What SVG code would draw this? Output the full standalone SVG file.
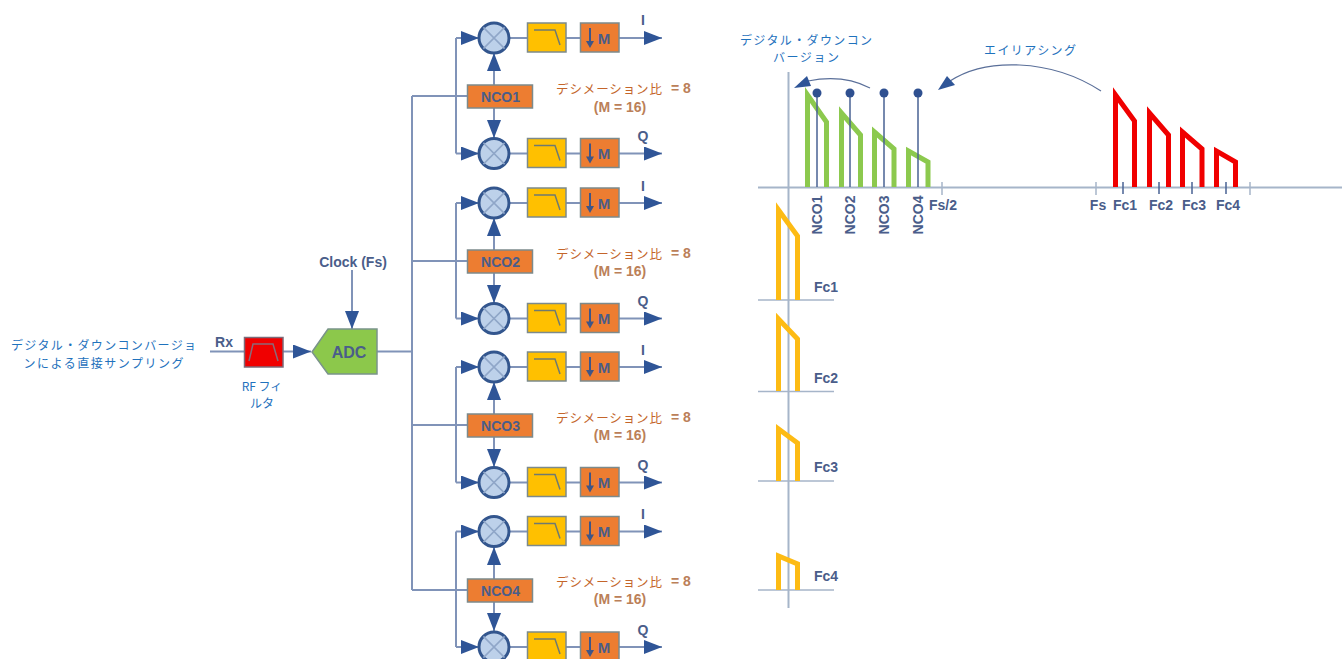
<svg xmlns="http://www.w3.org/2000/svg" xmlns:xlink="http://www.w3.org/1999/xlink" width="1342" height="659" viewBox="0 0 1342 659">
<style>
.lat{font-family:"Liberation Sans",Arial,sans-serif;font-weight:bold;fill:#4a5d8a;font-size:14px;text-anchor:middle}
.jb{font-family:"Noto Sans CJK JP","Noto Sans",sans-serif;fill:#1f72bd;font-size:12px;text-anchor:middle}
.jo{font-family:"Noto Sans CJK JP","Noto Sans",sans-serif;fill:#c4652a;font-size:12.5px;text-anchor:start}
.ob{font-family:"Liberation Sans",Arial,sans-serif;font-weight:bold;fill:#bb8058;font-size:14px}
.c{fill:none;stroke:#8093b8;stroke-width:2}
.a{fill:none;stroke:#8093b8;stroke-width:2;marker-end:url(#ah)}
.ax{fill:none;stroke:#a6b5c9;stroke-width:2}
.tk{fill:none;stroke:#a6b5c9;stroke-width:1.5}
.dk{fill:none;stroke:#4a6394;stroke-width:1.5}
.st{fill:none;stroke:#4a6394;stroke-width:1.5}
.dot{fill:#2f5090}
.g{fill:none;stroke:#8cc94e;stroke-width:5;stroke-miterlimit:10}
.r{fill:none;stroke:#f00000;stroke-width:5;stroke-miterlimit:10}
.y{fill:none;stroke:#fdbb14;stroke-width:5;stroke-miterlimit:10}
.box{stroke:#7c8a8c;stroke-width:1.5}
.head{fill:#2f5597}
.cv{fill:none;stroke:#5a6f99;stroke-width:1.2}
</style>
<defs>
<marker id="ah" markerUnits="userSpaceOnUse" markerWidth="18" markerHeight="14" refX="18" refY="7" orient="auto"><path d="M0 0L18 7L0 14Z" fill="#2f5597"/></marker>
<g id="mx"><circle cx="494" cy="0" r="15" fill="#bdd1ea" stroke="#33568e" stroke-width="3"/><path d="M483.4-10.6L504.6 10.6M483.4 10.6L504.6-10.6" stroke="#8fa6c8" stroke-width="1.5"/></g>
<g id="lp"><rect class="box" x="527.5" y="-15" width="38.5" height="29" fill="#ffc000"/><path d="M534-8H555L560 7" fill="none" stroke="#6f7a70" stroke-width="1.5"/></g>
<g id="dc"><rect class="box" x="580.5" y="-15" width="38.5" height="29" fill="#ed7d31"/><path d="M590-10V4" stroke="#3e5587" stroke-width="2"/><path d="M586 3H594L590 10Z" fill="#3e5587"/></g>
</defs>
<g id="connectors">
<path class="c" d="M412 96V590M412 96H467M412 261H467M412 425H467M412 590H467M377 351.500H412"/>
<path class="c" d="M456 38V153.500M456 203V318.500M456 367V482.500M456 531.500V647"/>
<path class="a" d="M456 38H479"/><path class="a" d="M456 153.500H479"/><path class="a" d="M456 203H479"/><path class="a" d="M456 318.500H479"/><path class="a" d="M456 367H479"/><path class="a" d="M456 482.500H479"/><path class="a" d="M456 531.500H479"/><path class="a" d="M456 647H479"/>
<path class="a" d="M494 85V53"/><path class="a" d="M494 108V138"/><path class="a" d="M494 250V218"/><path class="a" d="M494 273V303"/><path class="a" d="M494 414V382"/><path class="a" d="M494 437V467"/><path class="a" d="M494 579V547"/><path class="a" d="M494 601V631"/>
<path class="c" d="M509 38H527M566 38H580M509 153.500H527M566 153.500H580M509 203H527M566 203H580M509 318.500H527M566 318.500H580M509 367H527M566 367H580M509 482.500H527M566 482.500H580M509 531.500H527M566 531.500H580M509 647H527M566 647H580"/>
<path class="a" d="M619 38H662"/><path class="a" d="M619 153.500H662"/><path class="a" d="M619 203H662"/><path class="a" d="M619 318.500H662"/><path class="a" d="M619 367H662"/><path class="a" d="M619 482.500H662"/><path class="a" d="M619 531.500H662"/><path class="a" d="M619 647H662"/>
<path class="c" d="M210 351.500H244"/>
<path class="a" d="M283 351.500H311"/>
<path class="a" d="M352 270V329"/>
</g>
<g id="rf-filter"><rect x="244.500" y="337.500" width="38.500" height="29.500" fill="#f00000" stroke="#7c6a78" stroke-width="1.500"/><path d="M249 361L253 344H273L278 361" fill="none" stroke="#8a6a78" stroke-width="1.500"/></g>
<g id="adc"><path d="M312 352L328 329H377V374H328Z" fill="#8cc84b" stroke="#7a948a" stroke-width="1.500"/><text class="lat" x="349" y="357.500" font-size="16" style="font-size:16px">ADC</text></g>
<g id="ch1-mixI" transform="translate(0,38)"><use href="#mx"/></g>
<g id="ch1-lpI" transform="translate(0,38)"><use href="#lp"/></g>
<g id="ch1-decI" transform="translate(0,38)"><use href="#dc"/><text class="lat" x="604" y="5.500" style="font-size:15px">M</text></g>
<g id="ch1-nco"><rect class="box" x="467.500" y="85" width="65" height="23" fill="#ed7d31"/><text class="lat" x="500.500" y="102">NCO1</text></g>
<g id="ch1-mixQ" transform="translate(0,153.500)"><use href="#mx"/></g>
<g id="ch1-lpQ" transform="translate(0,153.500)"><use href="#lp"/></g>
<g id="ch1-decQ" transform="translate(0,153.500)"><use href="#dc"/><text class="lat" x="604" y="5.500" style="font-size:15px">M</text></g>
<g id="ch2-mixI" transform="translate(0,203)"><use href="#mx"/></g>
<g id="ch2-lpI" transform="translate(0,203)"><use href="#lp"/></g>
<g id="ch2-decI" transform="translate(0,203)"><use href="#dc"/><text class="lat" x="604" y="5.500" style="font-size:15px">M</text></g>
<g id="ch2-nco"><rect class="box" x="467.500" y="250" width="65" height="23" fill="#ed7d31"/><text class="lat" x="500.500" y="267">NCO2</text></g>
<g id="ch2-mixQ" transform="translate(0,318.500)"><use href="#mx"/></g>
<g id="ch2-lpQ" transform="translate(0,318.500)"><use href="#lp"/></g>
<g id="ch2-decQ" transform="translate(0,318.500)"><use href="#dc"/><text class="lat" x="604" y="5.500" style="font-size:15px">M</text></g>
<g id="ch3-mixI" transform="translate(0,367)"><use href="#mx"/></g>
<g id="ch3-lpI" transform="translate(0,367)"><use href="#lp"/></g>
<g id="ch3-decI" transform="translate(0,367)"><use href="#dc"/><text class="lat" x="604" y="5.500" style="font-size:15px">M</text></g>
<g id="ch3-nco"><rect class="box" x="467.500" y="414" width="65" height="23" fill="#ed7d31"/><text class="lat" x="500.500" y="431">NCO3</text></g>
<g id="ch3-mixQ" transform="translate(0,482.500)"><use href="#mx"/></g>
<g id="ch3-lpQ" transform="translate(0,482.500)"><use href="#lp"/></g>
<g id="ch3-decQ" transform="translate(0,482.500)"><use href="#dc"/><text class="lat" x="604" y="5.500" style="font-size:15px">M</text></g>
<g id="ch4-mixI" transform="translate(0,531.500)"><use href="#mx"/></g>
<g id="ch4-lpI" transform="translate(0,531.500)"><use href="#lp"/></g>
<g id="ch4-decI" transform="translate(0,531.500)"><use href="#dc"/><text class="lat" x="604" y="5.500" style="font-size:15px">M</text></g>
<g id="ch4-nco"><rect class="box" x="467.500" y="579" width="65" height="23" fill="#ed7d31"/><text class="lat" x="500.500" y="596">NCO4</text></g>
<g id="ch4-mixQ" transform="translate(0,647)"><use href="#mx"/></g>
<g id="ch4-lpQ" transform="translate(0,647)"><use href="#lp"/></g>
<g id="ch4-decQ" transform="translate(0,647)"><use href="#dc"/><text class="lat" x="604" y="5.500" style="font-size:15px">M</text></g>
<g id="labels">
<text class="lat" x="643" y="25">I</text><text class="lat" x="643" y="141">Q</text>
<text class="lat" x="643" y="191">I</text><text class="lat" x="643" y="306">Q</text>
<text class="lat" x="643" y="355">I</text><text class="lat" x="643" y="470">Q</text>
<text class="lat" x="643" y="519">I</text><text class="lat" x="643" y="635">Q</text>
<text class="jo" x="556" y="94" textLength="106" lengthAdjust="spacing">デシメーション比</text><text class="ob" x="671" y="93">= 8</text><text class="ob" x="620" y="112" text-anchor="middle">(M = 16)</text>
<text class="jo" x="556" y="259" textLength="106" lengthAdjust="spacing">デシメーション比</text><text class="ob" x="671" y="258">= 8</text><text class="ob" x="620" y="276" text-anchor="middle">(M = 16)</text>
<text class="jo" x="556" y="423" textLength="106" lengthAdjust="spacing">デシメーション比</text><text class="ob" x="671" y="422">= 8</text><text class="ob" x="620" y="440" text-anchor="middle">(M = 16)</text>
<text class="jo" x="556" y="587" textLength="106" lengthAdjust="spacing">デシメーション比</text><text class="ob" x="671" y="586">= 8</text><text class="ob" x="620" y="604" text-anchor="middle">(M = 16)</text>
<text class="lat" x="224" y="347">Rx</text>
<text class="lat" x="353" y="267">Clock (Fs)</text>
<text class="jb" x="103.500" y="350" textLength="185" lengthAdjust="spacing">デジタル・ダウンコンバージョ</text>
<text class="jb" x="103.500" y="368" textLength="160" lengthAdjust="spacing">ンによる直接サンプリング</text>
<text class="jb" x="262" y="391">RF フィ</text>
<text class="jb" x="262" y="408">ルタ</text>
<text class="jb" x="806" y="45" textLength="132" lengthAdjust="spacing">デジタル・ダウンコン</text>
<text class="jb" x="806" y="62" textLength="66" lengthAdjust="spacing">バージョン</text>
<text class="jb" x="1030" y="55" textLength="92" lengthAdjust="spacing">エイリアシング</text>
</g>
<g id="spectrum">
<path class="ax" d="M758 187.500H1342M788.500 72V608"/>
<path class="tk" d="M942 182V195M1096 182V195M1250 182V195"/>
<path class="dk" d="M1123 182V194M1159 182V194M1192 182V194M1226 182V194"/>
<path class="g" d="M807.500 187V95L826.500 122V187"/>
<path class="g" d="M841.500 187V113L860.500 135V187"/>
<path class="g" d="M874.500 187V132L894 149V187"/>
<path class="g" d="M908.500 187V151L928 162V187"/>
<path class="st" d="M817 93V187M850 93V187M884 93V187M918 93V187"/>
<circle class="dot" cx="817" cy="93" r="4.500"/><circle class="dot" cx="850" cy="93" r="4.500"/><circle class="dot" cx="884" cy="93" r="4.500"/><circle class="dot" cx="918" cy="93" r="4.500"/>
<path class="r" d="M1115.500 187V95L1134.500 121V187"/>
<path class="r" d="M1149.500 187V113L1168.500 135V187"/>
<path class="r" d="M1182.500 187V132L1202 149V187"/>
<path class="r" d="M1216.500 187V151L1235.500 162V187"/>
<path class="cv" d="M870 88Q843 74 808 81"/><path class="head" d="M794 88L807 76L811 86Z"/>
<path class="cv" d="M1101 91C1050 58 985 58 950 81"/><path class="head" d="M938 90L947 76L955 85Z"/>
<text class="lat" transform="translate(822,235) rotate(-90)" x="20" y="0">NCO1</text>
<text class="lat" transform="translate(855,235) rotate(-90)" x="20" y="0">NCO2</text>
<text class="lat" transform="translate(888.500,235) rotate(-90)" x="20" y="0">NCO3</text>
<text class="lat" transform="translate(922.500,235) rotate(-90)" x="20" y="0">NCO4</text>
<text class="lat" x="943" y="210">Fs/2</text>
<text class="lat" x="1098" y="210">Fs</text><text class="lat" x="1125" y="210">Fc1</text><text class="lat" x="1161" y="210">Fc2</text><text class="lat" x="1194" y="210">Fc3</text><text class="lat" x="1228" y="210">Fc4</text>
<path class="ax" d="M758 300H834M758 391.500H834M758 481H834M758 590H834" style="stroke-width:1.500"/>
<path class="y" d="M778.500 300V210L797.500 236V300"/>
<path class="y" d="M778.500 391V319L797.500 339V391"/>
<path class="y" d="M778.500 481V429L797.500 443V481"/>
<path class="y" d="M778.500 590V556L797.500 564V590"/>
<text class="lat" x="826" y="292">Fc1</text><text class="lat" x="826" y="383">Fc2</text><text class="lat" x="826" y="472">Fc3</text><text class="lat" x="826" y="581">Fc4</text>
</g>
</svg>
